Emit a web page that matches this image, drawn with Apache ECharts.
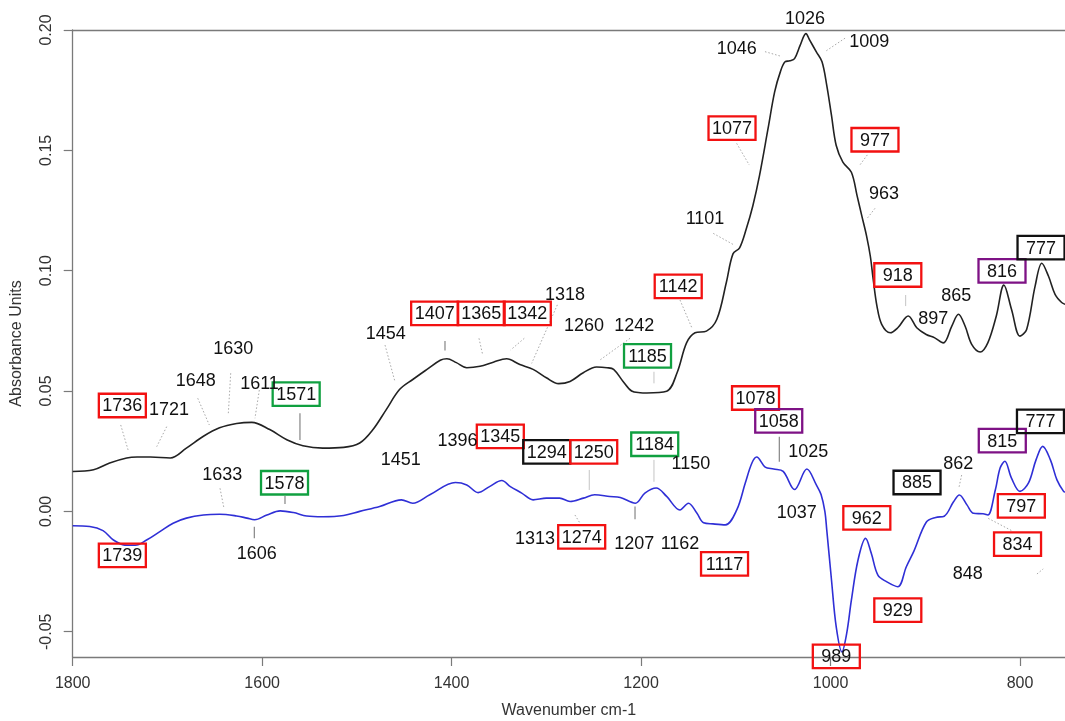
<!DOCTYPE html>
<html>
<head>
<meta charset="utf-8">
<script src="https://cdn.jsdelivr.net/npm/echarts@6/dist/echarts.min.js"></script>
<style>
  html, body { margin: 0; padding: 0; background: #fff; }
  #chart { width: 1065px; height: 721px; }
</style>
</head>
<body>
<div id="chart"></div>
<script>
// FTIR difference spectra, 1800–750 cm-1

// Upper spectrum (black)
const blackWavenumber = [1800, 1778, 1761, 1743, 1732, 1718, 1697, 1680, 1662, 1645, 1627, 1611, 1592, 1574, 1557, 1536, 1514, 1497, 1483, 1469, 1455, 1441, 1426, 1412, 1405, 1395, 1384, 1370, 1356, 1342, 1328, 1314, 1300, 1287, 1275, 1261, 1247, 1236, 1229, 1219, 1210, 1201, 1194, 1173, 1162, 1152, 1143, 1131, 1120, 1110, 1103, 1096, 1089, 1082, 1075, 1066, 1059, 1053, 1048, 1043, 1038, 1032, 1026, 1022, 1015, 1009, 1004, 999, 994, 987, 978, 972, 967, 962, 958, 955, 951, 946, 937, 929, 918, 909, 899, 890, 881, 872, 865, 858, 851, 842, 834, 825, 817, 809, 800, 793, 784, 777, 770, 763, 756, 752];
const blackAbsorbance = [0.0166, 0.0173, 0.0201, 0.0222, 0.0226, 0.0226, 0.0222, 0.0263, 0.0312, 0.0347, 0.0365, 0.0370, 0.0340, 0.0298, 0.0273, 0.0263, 0.0266, 0.0284, 0.0340, 0.0423, 0.0506, 0.0548, 0.0590, 0.0628, 0.0634, 0.0618, 0.0597, 0.0603, 0.0620, 0.0634, 0.0610, 0.0590, 0.0555, 0.0531, 0.0540, 0.0576, 0.0600, 0.0597, 0.0590, 0.0540, 0.0500, 0.0493, 0.0492, 0.0499, 0.0576, 0.0700, 0.0742, 0.0749, 0.0798, 0.0951, 0.1070, 0.1095, 0.1173, 0.1270, 0.1395, 0.1590, 0.1743, 0.1826, 0.1868, 0.1872, 0.1881, 0.1937, 0.1985, 0.1958, 0.1909, 0.1868, 0.1770, 0.1645, 0.1520, 0.1451, 0.1409, 0.1312, 0.1228, 0.1145, 0.1060, 0.0965, 0.0853, 0.0777, 0.0742, 0.0763, 0.0812, 0.0763, 0.0735, 0.0721, 0.0700, 0.0770, 0.0819, 0.0770, 0.0694, 0.0662, 0.0700, 0.0812, 0.0940, 0.0840, 0.0728, 0.0756, 0.0937, 0.1031, 0.0978, 0.0902, 0.0868, 0.0860];

// Lower spectrum (blue)
const blueWavenumber = [1800, 1782, 1768, 1757, 1745, 1734, 1722, 1708, 1694, 1680, 1662, 1645, 1627, 1616, 1608, 1595, 1581, 1567, 1553, 1536, 1514, 1497, 1476, 1453, 1441, 1423, 1396, 1384, 1372, 1360, 1347, 1338, 1326, 1314, 1300, 1286, 1275, 1261, 1249, 1233, 1222, 1206, 1196, 1184, 1173, 1159, 1150, 1141, 1134, 1124, 1111, 1099, 1090, 1083, 1078, 1069, 1060, 1050, 1038, 1025, 1015, 1010, 1006, 1004, 999, 994, 988, 983, 978, 971, 963, 957, 950, 941, 929, 920, 912, 899, 889, 880, 870, 864, 856, 849, 839, 834, 826, 821, 816, 809, 800, 791, 783, 776, 768, 761, 754, 752];
const blueAbsorbance = [-0.0060, -0.0063, -0.0080, -0.0119, -0.0140, -0.0141, -0.0119, -0.0084, -0.0049, -0.0028, -0.0015, -0.0012, -0.0019, -0.0028, -0.0035, -0.0015, 0.0002, -0.0005, -0.0019, -0.0022, -0.0017, 0.0000, 0.0020, 0.0048, 0.0034, 0.0069, 0.0120, 0.0110, 0.0078, 0.0103, 0.0128, 0.0103, 0.0076, 0.0048, 0.0055, 0.0055, 0.0041, 0.0055, 0.0069, 0.0062, 0.0058, 0.0034, 0.0076, 0.0097, 0.0062, 0.0006, 0.0034, -0.0008, -0.0047, -0.0052, -0.0056, 0.0006, 0.0118, 0.0201, 0.0226, 0.0184, 0.0176, 0.0166, 0.0091, 0.0176, 0.0110, 0.0070, 0.0000, -0.0077, -0.0285, -0.0480, -0.0584, -0.0508, -0.0369, -0.0202, -0.0112, -0.0174, -0.0265, -0.0292, -0.0313, -0.0230, -0.0165, -0.0045, -0.0025, -0.0020, 0.0041, 0.0068, 0.0027, -0.0008, -0.0010, -0.0015, 0.0090, 0.0180, 0.0208, 0.0138, 0.0083, 0.0118, 0.0215, 0.0270, 0.0215, 0.0131, 0.0083, 0.0080];

// Axis ticks
const xTicks = [800, 1000, 1200, 1400, 1600, 1800];
const yTicks = [-0.05, 0.00, 0.05, 0.10, 0.15, 0.20];

// Band assignments: label text, anchor (wavenumber, absorbance), frame colour
const bandLabels = [
  // upper spectrum
  { t: '1736', wn: 1747.6, a: 0.0440, box: 'red' },
  { t: '1721', wn: 1698.3, a: 0.0424 },
  { t: '1648', wn: 1670.1, a: 0.0546 },
  { t: '1630', wn: 1630.5, a: 0.0678 },
  { t: '1611', wn: 1602.8, a: 0.0532 },
  { t: '1571', wn: 1564.1, a: 0.0487, box: 'green' },
  { t: '1454', wn: 1469.5, a: 0.0740 },
  { t: '1407', wn: 1417.9, a: 0.0823, box: 'red' },
  { t: '1365', wn: 1368.8, a: 0.0823, box: 'red' },
  { t: '1342', wn: 1320.1, a: 0.0823, box: 'red' },
  { t: '1318', wn: 1280.3, a: 0.0902 },
  { t: '1260', wn: 1260.3, a: 0.0774 },
  { t: '1242', wn: 1207.3, a: 0.0774 },
  { t: '1185', wn: 1193.2, a: 0.0646, box: 'green' },
  { t: '1142', wn: 1160.8, a: 0.0935, box: 'red' },
  { t: '1101', wn: 1132.5, a: 0.1218 },
  { t: '1077', wn: 1104.0, a: 0.1592, box: 'red' },
  { t: '1046', wn: 1099.1, a: 0.1924 },
  { t: '1026', wn: 1027.0, a: 0.2049 },
  { t: '1009', wn: 959.1, a: 0.1954 },
  { t: '977', wn: 953.1, a: 0.1544, box: 'red' },
  { t: '963', wn: 943.6, a: 0.1324 },
  { t: '918', wn: 929.0, a: 0.0982, box: 'red' },
  { t: '897', wn: 891.5, a: 0.0802 },
  { t: '865', wn: 867.3, a: 0.0899 },
  { t: '816', wn: 819.0, a: 0.0999, box: 'purple' },
  { t: '777', wn: 777.8, a: 0.1096, box: 'black' },
  // lower spectrum
  { t: '1739', wn: 1747.6, a: -0.0183, box: 'red' },
  { t: '1633', wn: 1642.1, a: 0.0154 },
  { t: '1578', wn: 1576.4, a: 0.0119, box: 'green' },
  { t: '1606', wn: 1605.8, a: -0.0174 },
  { t: '1451', wn: 1453.6, a: 0.0216 },
  { t: '1396', wn: 1393.8, a: 0.0297 },
  { t: '1345', wn: 1348.6, a: 0.0312, box: 'red' },
  { t: '1294', wn: 1299.6, a: 0.0247, box: 'black' },
  { t: '1250', wn: 1250.0, a: 0.0247, box: 'red' },
  { t: '1184', wn: 1185.6, a: 0.0279, box: 'green' },
  { t: '1150', wn: 1147.5, a: 0.0202 },
  { t: '1313', wn: 1312.0, a: -0.0112 },
  { t: '1274', wn: 1262.7, a: -0.0106, box: 'red' },
  { t: '1207', wn: 1207.3, a: -0.0130 },
  { t: '1162', wn: 1158.9, a: -0.0130 },
  { t: '1117', wn: 1111.9, a: -0.0218, box: 'red' },
  { t: '1078', wn: 1079.2, a: 0.0471, box: 'red' },
  { t: '1058', wn: 1054.7, a: 0.0376, box: 'purple' },
  { t: '1025', wn: 1023.5, a: 0.0251 },
  { t: '1037', wn: 1035.7, a: -0.0001 },
  { t: '962', wn: 961.7, a: -0.0027, box: 'red' },
  { t: '989', wn: 993.9, a: -0.0602, box: 'red' },
  { t: '929', wn: 929.0, a: -0.0410, box: 'red' },
  { t: '885', wn: 908.7, a: 0.0120, box: 'black' },
  { t: '862', wn: 865.1, a: 0.0202 },
  { t: '848', wn: 855.2, a: -0.0255 },
  { t: '815', wn: 818.7, a: 0.0294, box: 'purple' },
  { t: '777', wn: 778.4, a: 0.0374, box: 'black' },
  { t: '797', wn: 798.6, a: 0.0023, box: 'red' },
  { t: '834', wn: 802.6, a: -0.0136, box: 'red' }
];

// Leader lines from labels to bands: [wn1, a1, wn2, a2, kind]
const leaderLines = [
  [1749.3, 0.0359, 1741.3, 0.0252, 'dot'],
  [1700.8, 0.0352, 1711.3, 0.0269, 'dot'],
  [1668.0, 0.0470, 1655.8, 0.0359, 'dot'],
  [1633.2, 0.0574, 1635.7, 0.0408, 'dot'],
  [1603.0, 0.0504, 1607.6, 0.0387, 'dot'],
  [1560.1, 0.0408, 1560.1, 0.0297, 'solid'],
  [1470.3, 0.0691, 1459.8, 0.0539, 'dot'],
  [1407.0, 0.0708, 1407.0, 0.0668, 'solid'],
  [1371.1, 0.0719, 1367.2, 0.0650, 'dot'],
  [1323.3, 0.0719, 1337.6, 0.0671, 'dot'],
  [1288.4, 0.0858, 1315.5, 0.0615, 'dot'],
  [1211.7, 0.0719, 1243.4, 0.0629, 'dot'],
  [1186.4, 0.0580, 1186.4, 0.0532, 'faint'],
  [1158.9, 0.0878, 1145.9, 0.0758, 'dot'],
  [1123.8, 0.1155, 1101.9, 0.1107, 'dot'],
  [1099.1, 0.1529, 1085.8, 0.1439, 'dot'],
  [1069.2, 0.1910, 1053.3, 0.1892, 'dot'],
  [984.7, 0.1966, 1005.9, 0.1910, 'dot'],
  [961.2, 0.1481, 969.6, 0.1436, 'dot'],
  [953.1, 0.1259, 961.2, 0.1218, 'dot'],
  [920.7, 0.0899, 920.7, 0.0853, 'faint'],
  [1644.5, 0.0096, 1640.3, 0.0013, 'dot'],
  [1575.9, 0.0064, 1575.9, 0.0031, 'solid'],
  [1608.3, -0.0064, 1608.3, -0.0112, 'solid'],
  [1254.7, 0.0172, 1254.7, 0.0089, 'faint'],
  [1186.4, 0.0214, 1186.4, 0.0123, 'faint'],
  [1269.8, -0.0015, 1264.5, -0.0049, 'dot'],
  [1206.4, 0.0020, 1206.4, -0.0033, 'solid'],
  [1054.1, 0.0310, 1054.1, 0.0206, 'solid'],
  [861.6, 0.0151, 864.4, 0.0100, 'dot'],
  [833.5, -0.0029, 808.8, -0.0080, 'dot'],
  [782.1, -0.0260, 775.5, -0.0239, 'dot']
];

const FONT = '"Liberation Sans", Arial, Helvetica, sans-serif';
const boxColor = { red: '#f21111', green: '#10a040', black: '#111111', purple: '#7e1285' };

const zip = (xs, ys) => xs.map((x, i) => [x, ys[i]]);

const chart = echarts.init(document.getElementById('chart'), null, { renderer: 'canvas' });

const axisGrey = '#7a7a7a';

chart.setOption({
  animation: false,
  backgroundColor: '#ffffff',
  grid: { left: 72.7, right: 0, top: 30, bottom: 64, outerBoundsMode: 'none', containLabel: false },
  xAxis: [
    {
      type: 'value',
      inverse: true,
      min: 752.5,
      max: 1800,
      position: 'bottom',
      name: 'Wavenumber cm-1',
      nameLocation: 'middle',
      nameGap: 46,
      nameTextStyle: { color: '#333', fontSize: 16, fontFamily: FONT },
      axisLine: { show: true, onZero: false, lineStyle: { color: axisGrey, width: 1.3 } },
      axisTick: { show: true, length: 9, customValues: xTicks, lineStyle: { color: axisGrey, width: 1.2 } },
      axisLabel: {
        customValues: xTicks,
        margin: 19,
        color: '#333',
        fontSize: 16,
        fontFamily: FONT,
        hideOverlap: false,
        formatter: v => String(Math.round(v))
      },
      splitLine: { show: false }
    },
    {
      // frame line along the top of the plot
      type: 'value',
      inverse: true,
      min: 752.5,
      max: 1800,
      position: 'top',
      axisLine: { show: true, onZero: false, lineStyle: { color: axisGrey, width: 1.3 } },
      axisTick: { show: false },
      axisLabel: { show: false },
      splitLine: { show: false }
    }
  ],
  yAxis: {
    type: 'value',
    min: -0.0605,
    max: 0.2,
    name: 'Absorbance Units',
    nameLocation: 'middle',
    nameGap: 48,
    nameRotate: 90,
    nameTextStyle: { color: '#333', fontSize: 16, fontFamily: FONT },
    axisLine: { show: true, onZero: false, lineStyle: { color: axisGrey, width: 1.3 } },
    axisTick: { show: true, length: 9, customValues: yTicks, lineStyle: { color: axisGrey, width: 1.2 } },
    axisLabel: {
      customValues: yTicks,
      rotate: 90,
      margin: 18,
      color: '#333',
      fontSize: 16,
      fontFamily: FONT,
      hideOverlap: false,
      formatter: v => Number(v).toFixed(2)
    },
    splitLine: { show: false }
  },
  series: [
    {
      name: 'upper',
      type: 'line',
      xAxisIndex: 0,
      data: zip(blackWavenumber, blackAbsorbance),
      showSymbol: false,
      smooth: 0.35,
      lineStyle: { color: '#222222', width: 1.6 },
      itemStyle: { color: '#222222' },
      z: 3
    },
    {
      name: 'lower',
      type: 'line',
      xAxisIndex: 0,
      data: zip(blueWavenumber, blueAbsorbance),
      showSymbol: false,
      smooth: 0.35,
      lineStyle: { color: '#2f2fd6', width: 1.6 },
      itemStyle: { color: '#2f2fd6' },
      z: 3
    }
  ]
});

// Band labels, frames and leader lines placed through the chart's own scales
const toPx = (wn, a) => chart.convertToPixel({ xAxisIndex: 0, yAxisIndex: 0 }, [wn, a]);
const elements = [];

leaderLines.forEach(([w1, a1, w2, a2, kind]) => {
  const p1 = toPx(w1, a1);
  const p2 = toPx(w2, a2);
  const style = kind === 'dot'
    ? { stroke: '#a8a8a8', lineWidth: 1, lineDash: [1.5, 2] }
    : kind === 'faint'
      ? { stroke: '#c4c4c4', lineWidth: 1 }
      : { stroke: '#7a7a7a', lineWidth: 1.1 };
  elements.push({
    type: 'line', silent: true, z: 50,
    shape: { x1: p1[0], y1: p1[1], x2: p2[0], y2: p2[1] },
    style
  });
});

bandLabels.forEach(lb => {
  const p = toPx(lb.wn, lb.a);
  if (lb.box) {
    elements.push({
      type: 'rect', silent: true, z: 60,
      shape: { x: p[0] - 23.5, y: p[1] - 11.75, width: 47, height: 23.5 },
      style: { fill: 'rgba(255,255,255,0)', stroke: boxColor[lb.box], lineWidth: 2.3 }
    });
  }
  elements.push({
    type: 'text', silent: true, z: 61,
    style: {
      text: lb.t,
      x: p[0],
      y: p[1] + 1,
      font: '18px ' + FONT,
      fill: '#111111',
      textAlign: 'center',
      textVerticalAlign: 'middle',
      align: 'center',
      verticalAlign: 'middle'
    }
  });
});

chart.setOption({ graphic: { elements } });
</script>
</body>
</html>
